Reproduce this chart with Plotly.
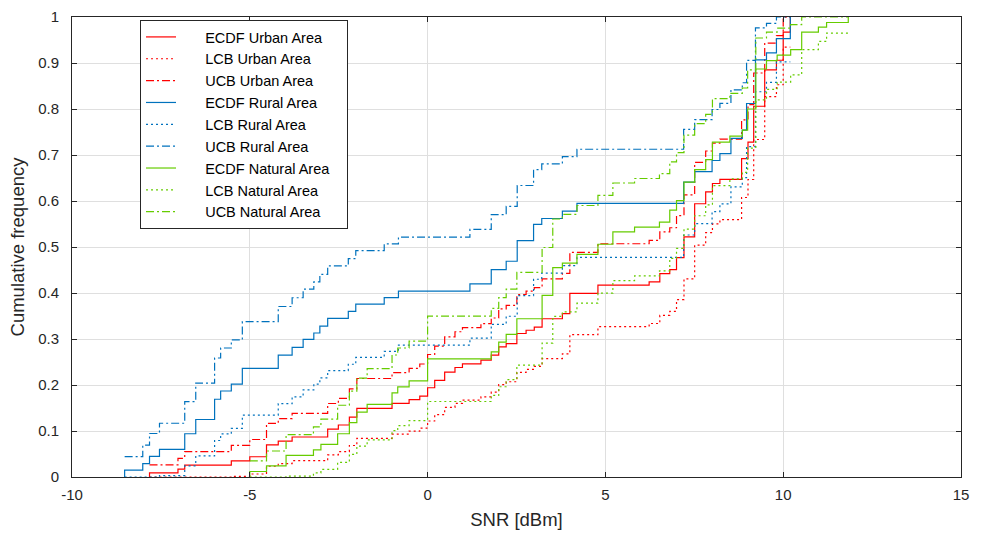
import plotly.graph_objects as go

# ---------------- data ----------------
urban_x = [-7.82, -7.02, -6.83, -5.52, -5.00, -4.53, -4.20, -3.81, -2.81, -2.51,
           -2.20, -1.99, -1.00, -0.52, -0.22, 0.00, 0.20, 0.48, 0.77, 0.98,
           1.50, 1.79, 2.00, 2.21, 2.51, 2.77, 3.00, 3.22, 3.79, 4.00,
           4.79, 6.23, 6.53, 6.81, 7.00, 7.21, 7.51, 7.82, 8.01, 8.22,
           8.83, 9.01, 9.17, 9.48, 9.81, 10.00, 10.20]
urban_ecdf = [0.009, 0.017, 0.026, 0.035, 0.044, 0.070, 0.078, 0.087, 0.104, 0.113,
              0.130, 0.149, 0.160, 0.168, 0.176, 0.194, 0.210, 0.228, 0.238, 0.246,
              0.254, 0.265, 0.283, 0.290, 0.312, 0.319, 0.326, 0.344, 0.355, 0.399,
              0.417, 0.424, 0.442, 0.451, 0.477, 0.522, 0.594, 0.620, 0.638, 0.647,
              0.692, 0.728, 0.806, 0.885, 0.906, 0.967, 1.0]
urban_lcb = [0, 0, 0, 0.0014, 0.0065, 0.0234, 0.0290, 0.0355, 0.0482, 0.0551,
             0.0685, 0.0839, 0.0930, 0.0997, 0.1064, 0.1217, 0.1356, 0.1513, 0.1602, 0.1673,
             0.1744, 0.1843, 0.2007, 0.2071, 0.2273, 0.2338, 0.2403, 0.2572, 0.2675, 0.3095,
             0.3269, 0.3337, 0.3512, 0.3601, 0.3857, 0.4307, 0.5042, 0.5313, 0.5502, 0.5597,
             0.6076, 0.6467, 0.7337, 0.8267, 0.8527, 0.9344, 0.9344]
urban_ucb = [0.0263, 0.0406, 0.0551, 0.0686, 0.0815, 0.1166, 0.1270, 0.1385, 0.1598, 0.1709,
             0.1915, 0.2141, 0.2270, 0.2363, 0.2456, 0.2663, 0.2844, 0.3047, 0.3158, 0.3247,
             0.3336, 0.3457, 0.3653, 0.3729, 0.3967, 0.4042, 0.4117, 0.4308, 0.4425, 0.4885,
             0.5071, 0.5143, 0.5328, 0.5419, 0.5683, 0.6133, 0.6838, 0.7087, 0.7258, 0.7344,
             0.7764, 0.8093, 0.8783, 0.9433, 0.9593, 0.9997, 1.0]

rural_x = [-8.52, -8.01, -7.82, -7.54, -6.83, -6.52, -5.99, -5.82, -5.52, -5.21,
           -4.20, -3.81, -3.50, -3.20, -3.03, -2.81, -2.23, -2.02, -1.22, -0.82,
           1.19, 1.79, 2.21, 2.52, 2.98, 3.21, 3.79, 4.20, 7.20, 7.51,
           8.00, 8.22, 8.53, 8.85, 8.97, 9.22, 9.53, 9.81, 10.20]
rural_ecdf = [0.015, 0.029, 0.045, 0.060, 0.094, 0.125, 0.169, 0.187, 0.202, 0.236,
              0.265, 0.282, 0.299, 0.313, 0.328, 0.345, 0.360, 0.376, 0.390, 0.404,
              0.420, 0.451, 0.469, 0.514, 0.549, 0.562, 0.578, 0.595, 0.641, 0.664,
              0.688, 0.703, 0.736, 0.754, 0.812, 0.907, 0.922, 0.953, 1.0]
rural_lcb = [0, 0, 0, 0.0031, 0.0241, 0.0458, 0.0793, 0.0936, 0.1059, 0.1343,
             0.1593, 0.1743, 0.1894, 0.2020, 0.2156, 0.2312, 0.2451, 0.2600, 0.2732, 0.2865,
             0.3018, 0.3319, 0.3495, 0.3943, 0.4299, 0.4432, 0.4597, 0.4775, 0.5261, 0.5509,
             0.5771, 0.5936, 0.6305, 0.6509, 0.7184, 0.8375, 0.8578, 0.9023, 0.9023]
rural_ucb = [0.0441, 0.0692, 0.0946, 0.1169, 0.1639, 0.2042, 0.2587, 0.2804, 0.2981, 0.3377,
             0.3707, 0.3897, 0.4086, 0.4240, 0.4404, 0.4588, 0.4749, 0.4920, 0.5068, 0.5215,
             0.5382, 0.5702, 0.5885, 0.6337, 0.6682, 0.6808, 0.6963, 0.7125, 0.7559, 0.7771,
             0.7989, 0.8124, 0.8416, 0.8571, 0.9056, 0.9765, 0.9862, 1.0, 1.0]

natural_x = [-5.00, -4.53, -3.98, -3.21, -3.00, -2.53, -2.20, -1.99, -1.70, -1.00,
             -0.84, -0.52, 0.00, 1.79, 2.00, 2.21, 2.51, 3.22, 3.52, 3.79,
             4.20, 4.79, 5.21, 5.82, 6.52, 6.81, 7.00, 7.21, 7.51, 7.82,
             8.01, 8.50, 8.85, 9.00, 9.23, 9.53, 9.83, 10.21, 10.52, 10.99,
             11.22, 11.83]
natural_ecdf = [0.012, 0.024, 0.047, 0.059, 0.071, 0.094, 0.118, 0.141, 0.158, 0.183,
                0.196, 0.209, 0.257, 0.272, 0.293, 0.310, 0.344, 0.395, 0.455, 0.465,
                0.484, 0.506, 0.533, 0.543, 0.554, 0.580, 0.601, 0.641, 0.668, 0.690,
                0.728, 0.741, 0.754, 0.800, 0.887, 0.905, 0.917, 0.929, 0.967, 0.978,
                0.988, 1.0]
natural_lcb = [0, 0, 0.0020, 0.0089, 0.0164, 0.0320, 0.0494, 0.0670, 0.0805, 0.1008,
               0.1116, 0.1226, 0.1641, 0.1774, 0.1962, 0.2117, 0.2430, 0.2911, 0.3491, 0.3590,
               0.3778, 0.3997, 0.4269, 0.4371, 0.4483, 0.4751, 0.4969, 0.5390, 0.5679, 0.5917,
               0.6334, 0.6479, 0.6624, 0.7150, 0.8197, 0.8427, 0.8584, 0.8744, 0.9290, 0.9468,
               0.9649, 0.9649]
natural_ucb = [0.0352, 0.0565, 0.0920, 0.1091, 0.1256, 0.1560, 0.1866, 0.2150, 0.2355, 0.2652,
               0.2804, 0.2954, 0.3499, 0.3666, 0.3898, 0.4083, 0.4450, 0.4989, 0.5609, 0.5710,
               0.5902, 0.6123, 0.6391, 0.6489, 0.6597, 0.6849, 0.7051, 0.7430, 0.7681, 0.7883,
               0.8226, 0.8341, 0.8456, 0.8850, 0.9543, 0.9673, 0.9757, 0.9836, 1.0, 1.0,
               1.0, 1.0]

x_tickvals = [-10, -5, 0, 5, 10, 15]
x_ticktext = ["-10", "-5", "0", "5", "10", "15"]
y_tickvals = [0, 0.1, 0.2, 0.3, 0.4, 0.5, 0.6, 0.7, 0.8, 0.9, 1]
y_ticktext = ["0", "0.1", "0.2", "0.3", "0.4", "0.5", "0.6", "0.7", "0.8", "0.9", "1"]

# ---------------- styles ----------------
RED = "#FF0000"
BLUE = "#0072BD"
GREEN = "#66CC00"
DOT = "2px,3px"
DASHDOT = "8px,3px,2px,3px"
LW = 1.2
FONT = "Liberation Sans, Arial, sans-serif"
AXC = "#262626"
PAD_L = "\u00a0" * 6   # pushes legend text right, like MATLAB's longer legend lines
PAD_R = "\u00a0" * 3   # widens the legend box to the reference's width

areas = [
    ("Urban", urban_x, urban_ecdf, urban_lcb, urban_ucb, RED),
    ("Rural", rural_x, rural_ecdf, rural_lcb, rural_ucb, BLUE),
    ("Natural", natural_x, natural_ecdf, natural_lcb, natural_ucb, GREEN),
]

fig = go.Figure()
for name, xs, ecdf, lcb, ucb, col in areas:
    fig.add_trace(go.Scatter(
        x=[xs[0]] + xs, y=[0] + ecdf, mode="lines", line_shape="hv",
        line=dict(color=col, width=LW), name=f"{PAD_L}ECDF {name} Area{PAD_R}"))
    fig.add_trace(go.Scatter(
        x=xs, y=lcb, mode="lines", line_shape="hv",
        line=dict(color=col, width=LW, dash=DOT), name=f"{PAD_L}LCB {name} Area{PAD_R}"))
    fig.add_trace(go.Scatter(
        x=xs, y=ucb, mode="lines", line_shape="hv",
        line=dict(color=col, width=LW, dash=DASHDOT), name=f"{PAD_L}UCB {name} Area{PAD_R}"))

axis_common = dict(
    showline=True, mirror="ticks", linecolor=AXC, linewidth=1,
    ticks="inside", ticklen=5, tickcolor=AXC, tickwidth=1,
    showgrid=True, gridcolor="#DFDFDF", gridwidth=1, zeroline=False,
    automargin=False,
    tickfont=dict(family=FONT, size=15, color=AXC),
)

fig.update_layout(
    width=984, height=533,
    margin=dict(l=72, r=23, t=17, b=56),
    paper_bgcolor="white", plot_bgcolor="white",
    font=dict(family=FONT, color=AXC),
    xaxis=dict(range=[-10, 15], tickvals=x_tickvals, ticktext=x_ticktext,
               ticklabelstandoff=4,
               title=dict(text="SNR [dBm]", font=dict(family=FONT, size=18.5, color=AXC), standoff=11),
               **axis_common),
    yaxis=dict(range=[0, 1], tickvals=y_tickvals, ticktext=y_ticktext,
               ticklabelstandoff=9,
               title=dict(text="Cumulative frequency", font=dict(family=FONT, size=18.5, color=AXC), standoff=8),
               **axis_common),
    legend=dict(x=0.0765, y=0.9935, xanchor="left", yanchor="top",
                bgcolor="white", bordercolor=AXC, borderwidth=1,
                font=dict(family=FONT, size=14.5, color="#000000")),
    showlegend=True,
)

fig.write_html("out.html")
